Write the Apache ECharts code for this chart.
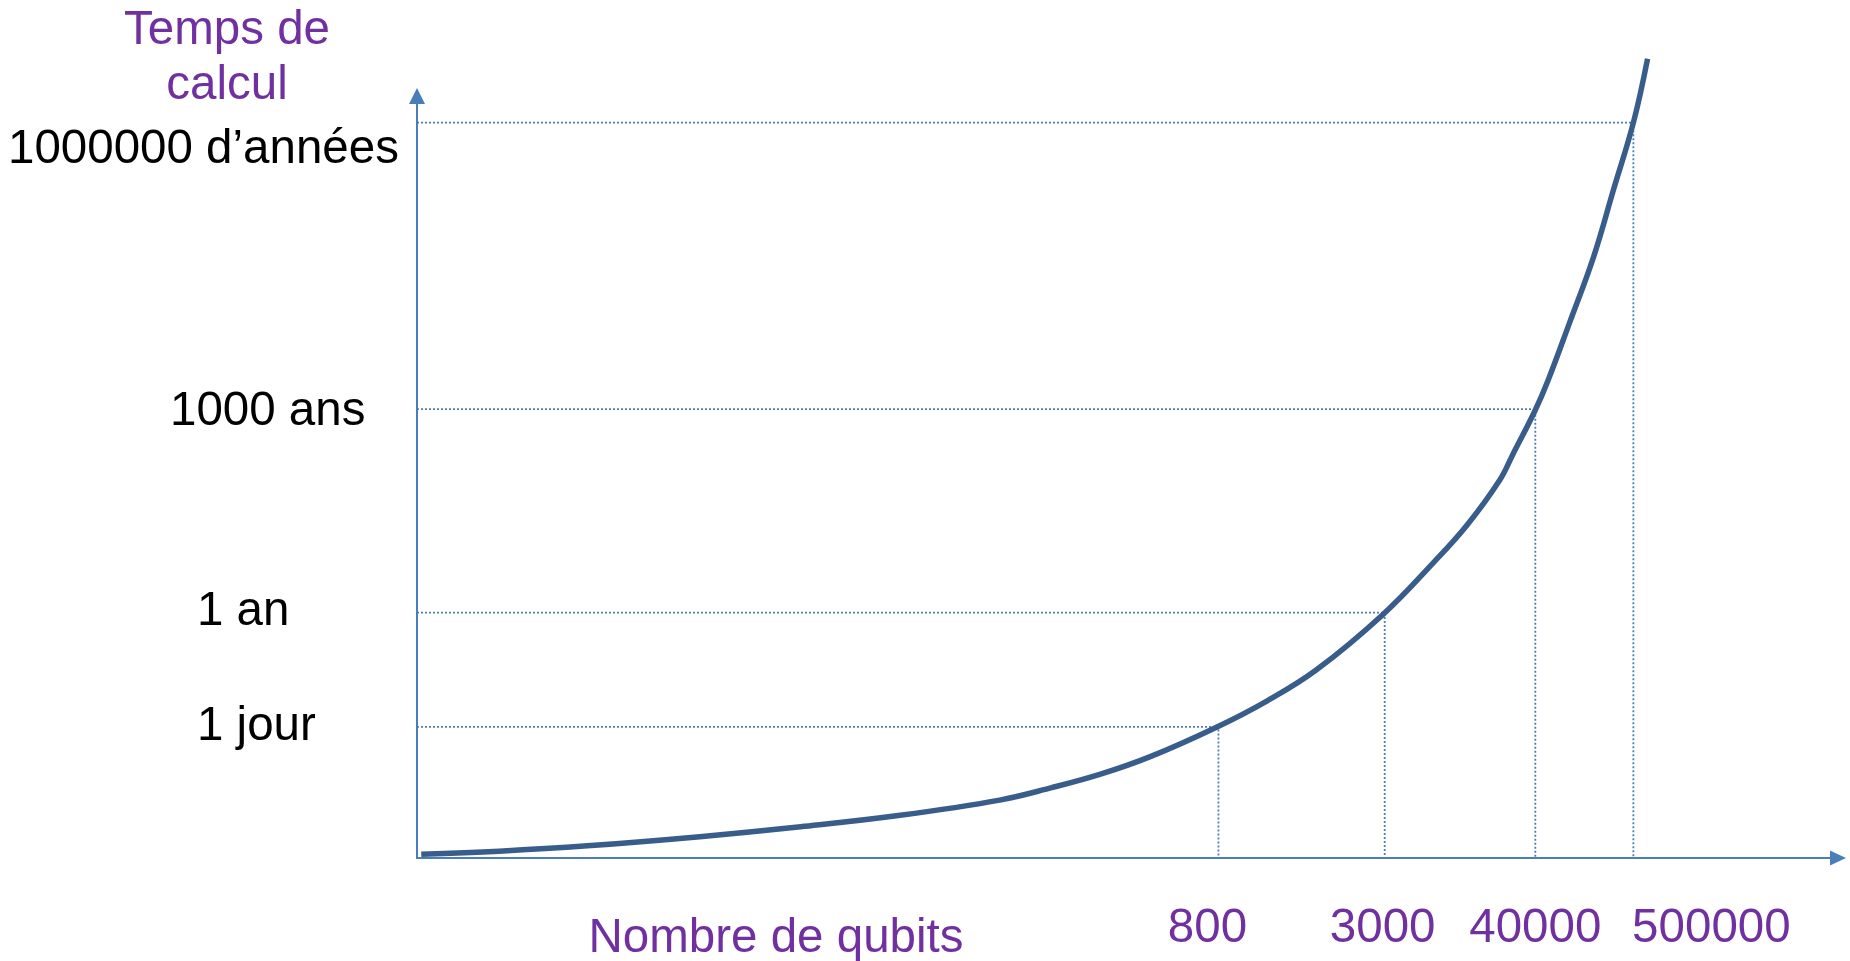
<!DOCTYPE html>
<html><head><meta charset="utf-8">
<style>html,body{margin:0;padding:0;background:#fff}#c{width:1850px;height:961px}</style>
<script src="https://cdn.jsdelivr.net/npm/echarts@6/dist/echarts.min.js"></script>
</head><body><div id="c"></div>
<script>
// Curve (abstract units: 0-100 along each axis)
const curveX = [0.3, 5.8, 12.0, 19.9, 27.0, 34.0, 41.0, 44.6, 48.1, 51.6, 56.3, 59.8, 63.3, 68.0, 71.5, 73.9, 76.2, 77.1, 78.7, 79.6, 81.1, 82.8, 84.2, 85.6, 86.6];
const curveY = [0.5, 0.9, 1.6, 2.8, 4.1, 5.6, 7.6, 9.2, 11.0, 13.3, 17.2, 20.6, 24.7, 32.0, 38.7, 43.7, 49.6, 52.9, 58.8, 62.7, 70.2, 78.9, 87.7, 96.5, 104.9];
// Time levels (y) and qubit counts (x)
const levelNames = ['1 jour', '1 an', '1000 ans', '1000000 d\u2019années'];
const levelY = [17.2, 32.2, 58.9, 96.5];
const qubitLabels = ['800', '3000', '40000', '500000'];
const qubitX = [56.4, 68.1, 78.7, 85.6];
const yTitle = 'Temps de\ncalcul';
const xTitle = 'Nombre de qubits';

const FONT = '"Liberation Sans", Arial, sans-serif';
const PURPLE = '#7030A0';
const AXIS = '#4A7EBB';
const CURVE = '#385D8A';
const FS = 47.5;

const chart = echarts.init(document.getElementById('c'), null, {renderer: 'canvas'});

const series = [];
// dotted guide lines
levelY.forEach((y, i) => {
  series.push({
    type: 'line', silent: true, showSymbol: false, clip: false, z: 2,
    data: [[0, y], [qubitX[i], y], [qubitX[i], 0]],
    lineStyle: {color: AXIS, width: 1.8, type: [2, 2]}
  });
});
// curve
series.push({
  type: 'line', silent: true, showSymbol: false, clip: false, smooth: 0.4, z: 5,
  data: curveX.map((x, i) => [x, curveY[i]]),
  lineStyle: {color: CURVE, width: 5.5, cap: 'butt'}
});
// y level labels
const yLabelOffsets = [[-220, 0], [-220, -1], [-247, 3], [-409, 27]];
series.push({
  type: 'scatter', silent: true, clip: false, symbolSize: 0, z: 6,
  itemStyle: {opacity: 1},
  data: levelY.map((y, i) => ({
    value: [0, y], name: levelNames[i],
    label: {offset: yLabelOffsets[i]}
  })),
  label: {show: true, position: 'inside', align: 'left', verticalAlign: 'middle', opacity: 1,
    formatter: p => p.name, color: '#000', fontSize: FS, fontFamily: FONT}
});
// x qubit labels
const xLabelOffsets = [[-11, 71], [-2, 71], [0, 71], [78, 71]];
series.push({
  type: 'scatter', silent: true, clip: false, symbolSize: 0, z: 6,
  itemStyle: {opacity: 1},
  data: qubitX.map((x, i) => ({
    value: [x, 0], name: qubitLabels[i],
    label: {offset: xLabelOffsets[i]}
  })),
  label: {show: true, position: 'inside', align: 'center', verticalAlign: 'middle', opacity: 1,
    formatter: p => p.name, color: PURPLE, fontSize: FS, fontFamily: FONT}
});

chart.setOption({
  animation: false,
  backgroundColor: '#fff',
  grid: {left: 417, right: 12, top: 96, bottom: 103, containLabel: false, outerBoundsMode: 'none'},
  xAxis: {
    type: 'value', min: 0, max: 100,
    axisLine: {show: true, lineStyle: {color: AXIS, width: 2}, symbol: ['none', 'triangle'], symbolSize: [15, 16]},
    axisTick: {show: false}, axisLabel: {show: false}, splitLine: {show: false}
  },
  yAxis: {
    type: 'value', min: 0, max: 100,
    axisLine: {show: true, onZero: false, lineStyle: {color: AXIS, width: 2}, symbol: ['none', 'triangle'], symbolSize: [16, 16]},
    axisTick: {show: false}, axisLabel: {show: false}, splitLine: {show: false}
  },
  graphic: [
    {type: 'text', id: 'yt', x: 227, y: 3, style: {text: yTitle, textAlign: 'center', textVerticalAlign: 'top', fill: PURPLE, fontSize: FS, fontFamily: FONT, lineHeight: 55}},
    {type: 'text', id: 'xt', x: 776, y: 939, style: {text: xTitle, textAlign: 'center', textVerticalAlign: 'middle', fill: PURPLE, fontSize: FS, fontFamily: FONT}}
  ],
  series: series
});
</script></body></html>
